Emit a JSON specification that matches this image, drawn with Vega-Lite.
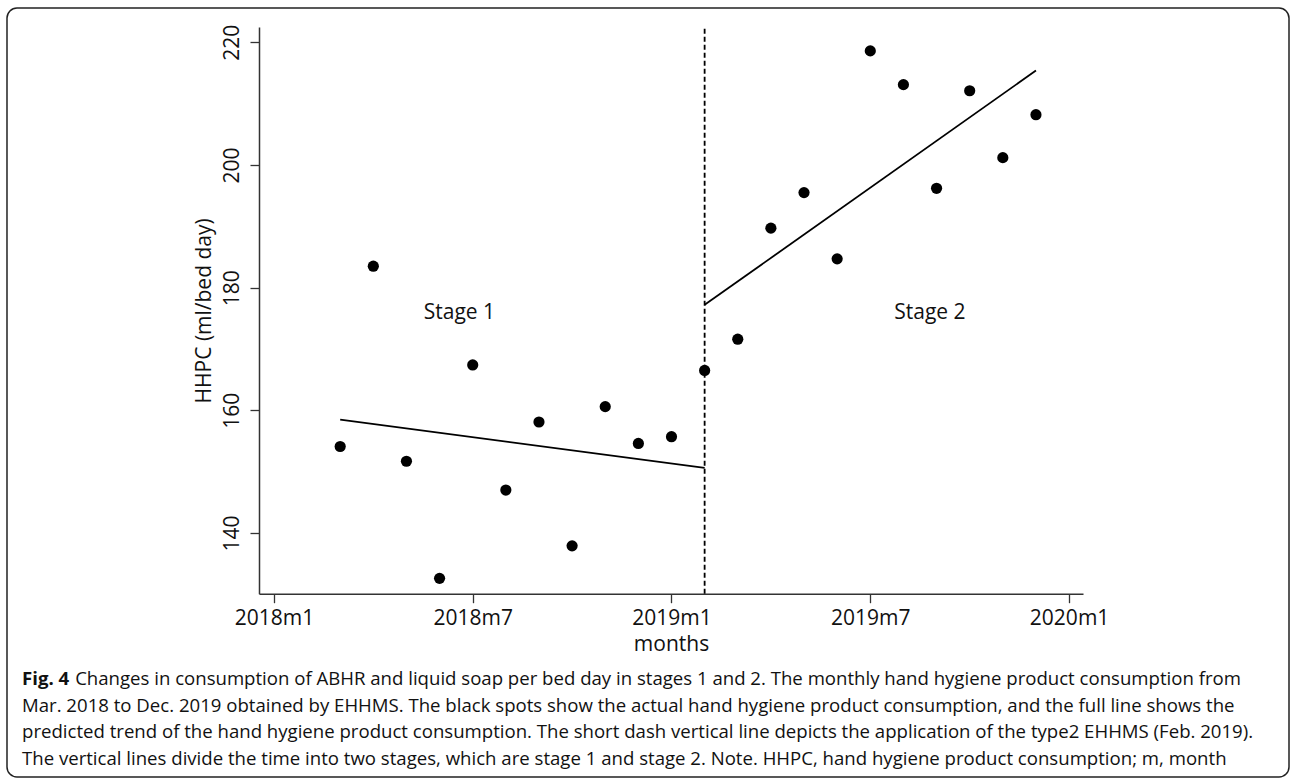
{
  "$schema": "https://vega.github.io/schema/vega-lite/v6.json",
  "autosize": {"type": "none"},
  "width": 1282,
  "height": 769,
  "padding": {"left": 7, "top": 8, "right": 3, "bottom": 1},
  "background": "white",
  "config": {
    "view": {"stroke": "#222222", "strokeWidth": 1.5, "cornerRadius": 10},
    "font": "Open Sans",
    "axis": {
      "grid": false,
      "domainColor": "#333333",
      "domainWidth": 1.5,
      "tickColor": "#333333",
      "tickWidth": 1.3,
      "tickSize": 9,
      "labelFont": "Open Sans",
      "labelFontSize": 21,
      "labelColor": "#111111",
      "titleFont": "Open Sans",
      "titleFontSize": 21,
      "titleFontWeight": "normal",
      "titleColor": "#111111",
      "labelFlush": false,
      "labelOverlap": false
    }
  },
  "title": {
    "text": "Fig. 4",
    "subtitle": [
      "\u200b\u00a0\u00a0\u00a0\u00a0\u00a0\u00a0\u00a0\u00a0\u00a0\u00a0\u00a0Changes in consumption of ABHR and liquid soap per bed day in stages 1 and 2. The monthly hand hygiene product consumption from",
      "Mar. 2018 to Dec. 2019 obtained by EHHMS. The black spots show the actual hand hygiene product consumption, and the full line shows the",
      "predicted trend of the hand hygiene product consumption. The short dash vertical line depicts the application of the type2 EHHMS (Feb. 2019).",
      "The vertical lines divide the time into two stages, which are stage 1 and stage 2. Note. HHPC, hand hygiene product consumption; m, month"
    ],
    "orient": "bottom",
    "anchor": "start",
    "frame": "group",
    "offset": -107,
    "dx": 15,
    "font": "Open Sans",
    "fontSize": 18.6,
    "fontWeight": "bold",
    "color": "#111111",
    "subtitleFont": "Open Sans",
    "subtitleFontSize": 18.6,
    "subtitleColor": "#111111",
    "subtitleLineHeight": 26.6,
    "subtitlePadding": -18.6
  },
  "datasets": {
    "hhpc": [
      {"month": "2018m3", "t": 698, "hhpc": 154.1},
      {"month": "2018m4", "t": 699, "hhpc": 183.5},
      {"month": "2018m5", "t": 700, "hhpc": 151.7},
      {"month": "2018m6", "t": 701, "hhpc": 132.6},
      {"month": "2018m7", "t": 702, "hhpc": 167.4},
      {"month": "2018m8", "t": 703, "hhpc": 147.0},
      {"month": "2018m9", "t": 704, "hhpc": 158.1},
      {"month": "2018m10", "t": 705, "hhpc": 137.9},
      {"month": "2018m11", "t": 706, "hhpc": 160.6},
      {"month": "2018m12", "t": 707, "hhpc": 154.6},
      {"month": "2019m1", "t": 708, "hhpc": 155.7},
      {"month": "2019m2", "t": 709, "hhpc": 166.5},
      {"month": "2019m3", "t": 710, "hhpc": 171.6},
      {"month": "2019m4", "t": 711, "hhpc": 189.7},
      {"month": "2019m5", "t": 712, "hhpc": 195.5},
      {"month": "2019m6", "t": 713, "hhpc": 184.7},
      {"month": "2019m7", "t": 714, "hhpc": 218.6},
      {"month": "2019m8", "t": 715, "hhpc": 213.1},
      {"month": "2019m9", "t": 716, "hhpc": 196.2},
      {"month": "2019m10", "t": 717, "hhpc": 212.1},
      {"month": "2019m11", "t": 718, "hhpc": 201.2},
      {"month": "2019m12", "t": 719, "hhpc": 208.2}
    ],
    "trend": [
      {"stage": "Stage 1", "t": 698, "fit": 158.5},
      {"stage": "Stage 1", "t": 709, "fit": 150.6},
      {"stage": "Stage 2", "t": 709, "fit": 177.2},
      {"stage": "Stage 2", "t": 719, "fit": 215.4}
    ],
    "stages": [
      {"label": "Stage 1", "t": 701.6, "v": 175.8},
      {"label": "Stage 2", "t": 715.8, "v": 175.8}
    ],
    "intervention": [
      {"label": "type2 EHHMS", "t": 709}
    ]
  },
  "layer": [
    {
      "data": {"name": "hhpc"},
      "mark": {"type": "point", "filled": true, "shape": "circle", "size": 125, "color": "black", "opacity": 1},
      "encoding": {
        "x": {
          "field": "t",
          "type": "quantitative",
          "scale": {"domain": [695.55, 720.42], "range": [252, 1076], "nice": false, "zero": false},
          "axis": {
            "values": [696, 702, 708, 714, 720],
            "labelExpr": "(floor(datum.value / 12) + 1960) + 'm' + (datum.value % 12 + 1)",
            "title": "months",
            "offset": -183.3,
            "labelPadding": 5,
            "titlePadding": 5
          }
        },
        "y": {
          "field": "hhpc",
          "type": "quantitative",
          "scale": {"domain": [130.1, 222.5], "range": [585.7, 19], "nice": false, "zero": false},
          "axis": {
            "values": [140, 160, 180, 200, 220],
            "title": "HHPC (ml/bed day)",
            "offset": -252,
            "labelAngle": -90,
            "labelAlign": "center",
            "labelBaseline": "bottom",
            "labelPadding": 8,
            "titlePadding": 7
          }
        }
      }
    },
    {
      "data": {"name": "trend"},
      "mark": {"type": "line", "color": "black", "strokeWidth": 1.8},
      "encoding": {
        "x": {"field": "t", "type": "quantitative"},
        "y": {"field": "fit", "type": "quantitative"},
        "detail": {"field": "stage"}
      }
    },
    {
      "data": {"name": "intervention"},
      "mark": {"type": "rule", "color": "black", "strokeWidth": 1.8, "strokeDash": [5, 3]},
      "encoding": {
        "x": {"field": "t", "type": "quantitative"},
        "y": {"datum": 130.1},
        "y2": {"datum": 222.5}
      }
    },
    {
      "data": {"name": "stages"},
      "mark": {"type": "text", "font": "Open Sans", "fontSize": 21, "color": "#111111", "align": "center", "baseline": "middle"},
      "encoding": {
        "x": {"field": "t", "type": "quantitative"},
        "y": {"field": "v", "type": "quantitative"},
        "text": {"field": "label"}
      }
    }
  ]
}
